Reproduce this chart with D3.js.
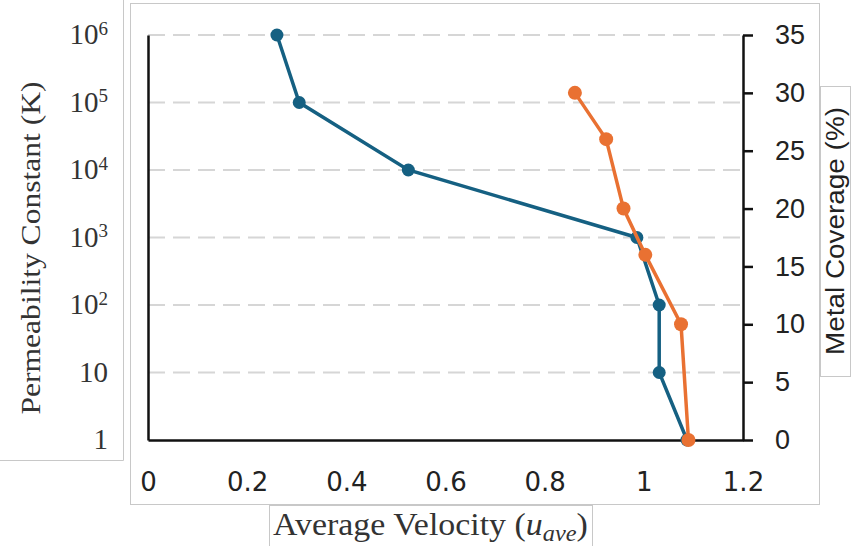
<!DOCTYPE html>
<html>
<head>
<meta charset="utf-8">
<script src="https://cdn.jsdelivr.net/npm/d3@7"></script>
<style>
  html, body { margin: 0; padding: 0; background: #fff; }
  svg { display: block; }
</style>
</head>
<body>
<svg id="chart" width="860" height="546"></svg>
<script>
// ---- data ----
const permeabilityK = [1e6, 1e5, 1e4, 1e3, 1e2, 10, 1];
const velocityByK = [0.26, 0.305, 0.525, 0.986, 1.031, 1.031, 1.087];
const metalCoverage = [30, 26, 20, 16, 10, 0];
const velocityByCoverage = [0.861, 0.924, 0.959, 1.003, 1.075, 1.09];
const xTicks = [0, 0.2, 0.4, 0.6, 0.8, 1, 1.2];
const kTicks = [1, 10, 100, 1e3, 1e4, 1e5, 1e6];
const coverageTicks = [0, 5, 10, 15, 20, 25, 30, 35];
const xTitle = "Average Velocity (";
const leftTitle = "Permeability Constant (K)";
const rightTitle = "Metal Coverage (%)";

(function () {
const blue = "#156082", orange = "#E97132";
const svg = d3.select("#chart");

const pLeft = 148, pRight = 743, pTop = 35, pBottom = 440;
const x = d3.scaleLinear().domain([0, 1.2]).range([pLeft, pRight]);
const yK = d3.scaleLog().domain([1, 1e6]).range([pBottom, pTop]);
const yC = d3.scaleLinear().domain([0, 35]).range([pBottom, pTop]);

// ---- decorative frames (pasted image boxes) ----
const frame = "#c8c8c8";
svg.append("rect").attr("x", 130.5).attr("y", 3.5).attr("width", 689).attr("height", 501)
  .attr("fill", "none").attr("stroke", frame);
svg.append("path").attr("d", "M123.5,0V460.5H0").attr("fill", "none").attr("stroke", frame);
svg.append("rect").attr("x", 269.5).attr("y", 505.5).attr("width", 323).attr("height", 50)
  .attr("fill", "#fff").attr("stroke", frame);
svg.append("rect").attr("x", 820.5).attr("y", 86.5).attr("width", 30).attr("height", 290)
  .attr("fill", "#fff").attr("stroke", frame);

// ---- gridlines ----
svg.append("g").selectAll("line").data(kTicks.filter(d => d > 1)).join("line")
  .attr("x1", pLeft).attr("x2", pRight)
  .attr("y1", d => yK(d)).attr("y2", d => yK(d))
  .attr("stroke", "#d6d6d6").attr("stroke-width", 2).attr("stroke-dasharray", "17,8");

// ---- axes ----
const gx = svg.append("g").attr("transform", `translate(0,${pBottom})`)
  .call(d3.axisBottom(x).tickValues(xTicks).tickSize(0).tickPadding(33).tickFormat(d3.format("~g")));
gx.select(".domain").attr("stroke", "#111").attr("stroke-width", 2.5);
gx.selectAll("text").attr("font-family", "DejaVu Sans").attr("font-size", 26).attr("fill", "#222");

const gl = svg.append("g").attr("transform", `translate(${pLeft},0)`)
  .call(d3.axisLeft(yK).tickValues(kTicks).tickSize(0).tickPadding(40).tickFormat(() => ""));
gl.select(".domain").attr("stroke", "#111").attr("stroke-width", 2.5);
gl.selectAll(".tick text").each(function(d) {
  const t = d3.select(this).attr("font-family", "Liberation Serif").attr("font-size", 29)
    .attr("fill", "#333").attr("dy", "0.3em");
  const e = Math.round(Math.log10(d));
  if (e === 0) t.text("1");
  else if (e === 1) t.text("10");
  else {
    t.append("tspan").text("10");
    t.append("tspan").attr("font-size", 19).attr("dy", "-0.5em").text(e);
  }
});

const gr = svg.append("g").attr("transform", `translate(${pRight},0)`)
  .call(d3.axisRight(yC).tickValues(coverageTicks).tickSize(10).tickSizeOuter(0).tickPadding(22));
gr.select(".domain").attr("stroke", "#111").attr("stroke-width", 2.5);
gr.selectAll(".tick line").attr("stroke", "#111").attr("stroke-width", 2.5);
gr.selectAll("text").attr("font-family", "Liberation Sans").attr("font-size", 27).attr("fill", "#222");

// ---- titles ----
svg.append("text").attr("transform", "translate(30,248) rotate(-90)")
  .attr("text-anchor", "middle").attr("dominant-baseline", "central")
  .attr("font-family", "Liberation Serif").attr("font-size", 28).attr("fill", "#333")
  .attr("textLength", 333).attr("lengthAdjust", "spacingAndGlyphs").text(leftTitle);

svg.append("text").attr("transform", "translate(835,231) rotate(-90)")
  .attr("text-anchor", "middle").attr("dominant-baseline", "central")
  .attr("font-family", "Liberation Sans").attr("font-size", 25).attr("fill", "#222")
  .attr("textLength", 248).attr("lengthAdjust", "spacingAndGlyphs").text(rightTitle);

const xt = svg.append("text").attr("x", 0).attr("y", 0)
  .attr("font-family", "Liberation Serif").attr("font-size", 32).attr("fill", "#333");
xt.append("tspan").text(xTitle);
xt.append("tspan").attr("font-style", "italic").text("u");
xt.append("tspan").attr("font-style", "italic").attr("font-size", 23).attr("dy", 6).text("ave");
xt.append("tspan").attr("dy", -6).text(")");
const bb = xt.node().getBBox();
xt.attr("transform", `translate(${273 - bb.x * 315 / bb.width},535) scale(${315 / bb.width},1)`);

// ---- series ----
const lineK = d3.line().x(d => x(d[0])).y(d => yK(d[1]));
const ptsK = permeabilityK.map((k, i) => [velocityByK[i], k]);
svg.append("path").datum(ptsK).attr("d", lineK).attr("fill", "none")
  .attr("stroke", blue).attr("stroke-width", 3.5);
svg.append("g").selectAll("circle").data(ptsK).join("circle")
  .attr("cx", d => x(d[0])).attr("cy", d => yK(d[1])).attr("r", 6.5).attr("fill", blue);

const lineC = d3.line().x(d => x(d[0])).y(d => yC(d[1]));
const ptsC = metalCoverage.map((c, i) => [velocityByCoverage[i], c]);
svg.append("path").datum(ptsC).attr("d", lineC).attr("fill", "none")
  .attr("stroke", orange).attr("stroke-width", 3.5);
svg.append("g").selectAll("circle").data(ptsC).join("circle")
  .attr("cx", d => x(d[0])).attr("cy", d => yC(d[1])).attr("r", 7).attr("fill", orange);
})();
</script>
</body>
</html>
